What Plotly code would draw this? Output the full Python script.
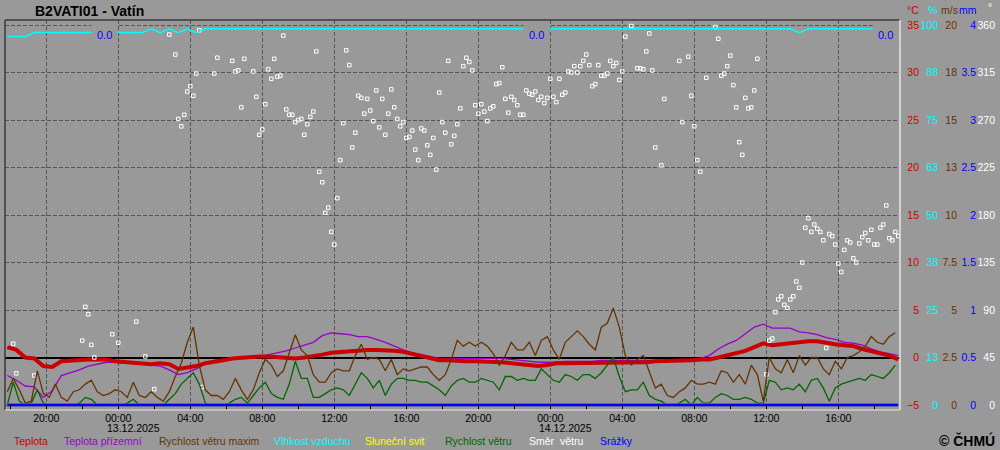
import pandas as pd
import plotly.graph_objects as go

# ---------------- DATA ----------------
START = "2025-12-12 17:50"

# 30-minute series (100 samples)
temp = [1.1, 0.8, 0.0, -0.1, -0.9, -1.0, -0.4, -0.3, -0.2, -0.2,
        -0.2, -0.2, -0.4, -0.5, -0.5, -0.6, -0.7, -0.6, -0.7, -1.2,
        -1.1, -0.9, -0.6, -0.5, -0.3, -0.1, 0.0, 0.1, 0.1, 0.1,
        0.0, -0.1, -0.1, 0.0, 0.1, 0.3, 0.5, 0.6, 0.7, 0.7,
        0.8, 0.8, 0.8, 0.7, 0.6, 0.4, 0.1, -0.1, -0.3, -0.3,
        -0.4, -0.4, -0.4, -0.4, -0.5, -0.5, -0.6, -0.7, -0.8, -0.9,
        -0.8, -0.6, -0.6, -0.6, -0.6, -0.5, -0.5, -0.5, -0.5, -0.5,
        -0.5, -0.5, -0.4, -0.4, -0.4, -0.3, -0.3, -0.2, -0.2, 0.0,
        0.2, 0.4, 0.7, 1.1, 1.5, 1.3, 1.4, 1.6, 1.7, 1.7,
        1.7, 1.5, 1.4, 1.3, 1.2, 0.9, 0.7, 0.5, 0.2, -0.2]

temp_ground = [-1.9, -2.4, -3.0, -3.1, -4.2, -3.5, -1.9, -1.6, -1.3, -0.9,
               -0.7, -0.5, -0.5, -0.6, -0.6, -0.7, -0.8, -0.9, -1.3, -1.8,
               -1.6, -1.2, -0.7, -0.3, -0.2, -0.1, 0.0, 0.1, 0.1, 0.3,
               0.5, 0.7, 1.0, 1.3, 1.6, 2.3, 2.6, 2.5, 2.4, 2.2,
               2.2, 1.9, 1.6, 1.2, 0.8, 0.5, 0.3, 0.1, -0.1, -0.1,
               -0.1, -0.1, -0.1, -0.1, -0.1, -0.1, -0.2, -0.3, -0.4, -0.5,
               -0.5, -0.5, -0.4, -0.4, -0.4, -0.4, -0.3, -0.3, -0.3, -0.3,
               -0.3, -0.3, -0.3, -0.3, -0.3, -0.2, -0.2, -0.1, 0.2, 0.9,
               1.4, 1.8, 2.5, 3.2, 3.5, 3.1, 3.1, 3.1, 2.7, 2.6,
               2.4, 2.1, 1.9, 1.6, 1.5, 1.3, 0.9, 0.6, 0.4, 0.2]

humidity = [97, 97, 97, 98, 98, 98, 98, 98, 98, 98,
            98, 98, 98, 98, 98, 98, 99, 98, 99, 98,
            99, 98, 99, 99, 99, 99, 99, 99, 99, 99,
            99, 99, 99, 99, 99, 99, 99, 99, 99, 99,
            99, 99, 99, 99, 99, 99, 99, 99, 99, 99,
            99, 99, 99, 99, 99, 99, 99, 99, 99, 99,
            99, 99, 99, 99, 99, 99, 99, 99, 99, 99,
            99, 99, 99, 99, 99, 99, 99, 99, 99, 99,
            99, 99, 99, 99, 99, 99, 99, 99, 98, 99,
            99, 99, 99, 99, 99, 99, 99, 99, 99, 99]

sunshine = [0, 0, 0, 0, 0, 0, 0, 0, 0, 0,
            0, 0, 0, 0, 0, 0, 0, 0, 0, 0,
            0, 0, 0, 0, 0, 0, 0, 0, 0, 0,
            0, 0, 0, 0, 0, 0, 0, 0, 0, 0,
            0, 0, 0, 0, 0, 0, 0, 0, 0, 0,
            0, 0, 0, 0, 0, 0, 0, 0, 0, 0,
            0, 0, 0, 0, 0, 0, 0, 0, 0, 0,
            0, 0, 0, 0, 0, 0, 0, 0, 0, 0,
            0, 0, 0, 0, 0, 0, 0, 0, 0, 0,
            0, 0, 0, 0, 0, 0, 0, 0, 0, 0]

precip = [0.0, 0.0, 0.0, 0.0, 0.0, 0.0, 0.0, 0.0, 0.0, 0.0,
          0.0, 0.0, 0.0, 0.0, 0.0, 0.0, 0.0, 0.0, 0.0, 0.0,
          0.0, 0.0, 0.0, 0.0, 0.0, 0.0, 0.0, 0.0, 0.0, 0.0,
          0.0, 0.0, 0.0, 0.0, 0.0, 0.0, 0.0, 0.0, 0.0, 0.0,
          0.0, 0.0, 0.0, 0.0, 0.0, 0.0, 0.0, 0.0, 0.0, 0.0,
          0.0, 0.0, 0.0, 0.0, 0.0, 0.0, 0.0, 0.0, 0.0, 0.0,
          0.0, 0.0, 0.0, 0.0, 0.0, 0.0, 0.0, 0.0, 0.0, 0.0,
          0.0, 0.0, 0.0, 0.0, 0.0, 0.0, 0.0, 0.0, 0.0, 0.0,
          0.0, 0.0, 0.0, 0.0, 0.0, 0.0, 0.0, 0.0, 0.0, 0.0,
          0.0, 0.0, 0.0, 0.0, 0.0, 0.0, 0.0, 0.0, 0.0, 0.0]

# 20-minute series (149 samples)
wind_max = [0.7, 1.4, 0.8, 0.1, 0.2, 1.8, 0.6, 0.4, 1.1, 0.4,
            0.2, 0.7, 0.8, 1.1, 1.3, 0.7, 0.5, 0.6, 0.8, 0.7,
            0.4, 1.2, 0.5, 0.4, 0.7, 0.4, 0.2, 0.7, 1.5, 2.2,
            3.3, 4.1, 2.1, 0.8, 0.5, 0.5, 0.3, 0.7, 1.4, 0.8,
            0.3, 0.8, 1.7, 2.4, 2.1, 1.5, 1.8, 2.8, 3.7, 2.9,
            2.6, 1.6, 1.2, 1.2, 1.7, 1.9, 1.8, 1.8, 2.6, 3.2,
            2.4, 2.5, 2.4, 1.8, 2.4, 1.6, 1.9, 1.8, 1.9, 2.0,
            2.0, 1.6, 1.3, 1.6, 2.4, 3.4, 3.1, 3.3, 3.1, 3.3,
            3.1, 2.7, 2.1, 2.6, 3.3, 2.9, 2.9, 3.3, 2.6, 3.4,
            3.6, 2.9, 2.4, 3.3, 3.6, 3.9, 3.6, 3.2, 2.9, 4.1,
            4.3, 5.1, 4.1, 2.6, 2.1, 2.4, 2.6, 1.7, 0.9, 1.1,
            0.5, 0.4, 0.7, 0.9, 1.3, 1.1, 1.1, 1.2, 1.1, 1.8,
            1.7, 1.2, 1.6, 1.1, 2.1, 1.6, 0.2, 2.5, 1.9, 1.7,
            2.4, 1.7, 2.6, 2.1, 2.5, 2.5, 1.9, 1.6, 2.3, 1.9,
            2.5, 2.6, 2.8, 3.1, 3.6, 3.3, 3.2, 3.6, 3.8]

wind_speed = [0.0, 1.2, 0.2, 0.0, 0.1, 0.8, 0.1, 0.0, 0.0, 0.0,
              0.0, 0.0, 0.1, 0.4, 0.3, 0.0, 0.0, 0.0, 0.0, 0.0,
              0.1, 0.3, 0.0, 0.0, 0.0, 0.0, 0.0, 0.3, 0.6, 1.1,
              1.4, 1.7, 1.1, 0.1, 0.0, 0.0, 0.0, 0.1, 0.3, 0.4,
              0.1, 0.5, 0.9, 1.2, 0.6, 0.4, 0.3, 1.1, 2.3, 1.4,
              1.4, 0.4, 0.4, 0.6, 0.8, 0.9, 0.8, 0.5, 1.1, 1.7,
              1.4, 0.9, 1.3, 0.5, 1.1, 1.4, 1.4, 1.3, 1.3, 1.2,
              1.2, 1.0, 0.8, 0.5, 1.0, 1.3, 1.4, 1.2, 1.2, 1.4,
              1.3, 1.2, 0.8, 1.5, 1.5, 1.3, 1.4, 1.3, 1.3, 1.9,
              1.6, 1.3, 1.2, 1.6, 1.5, 1.3, 1.6, 1.6, 1.4, 1.7,
              2.1, 2.5, 1.5, 0.7, 0.8, 0.8, 1.2, 0.5, 0.3, 0.2,
              0.0, 0.0, 0.1, 0.3, 0.0, 0.4, 0.1, 0.1, 0.4, 0.6,
              0.5, 0.3, 0.3, 0.4, 0.3, 0.1, 0.1, 1.3, 1.2, 0.8,
              0.9, 0.8, 1.1, 0.7, 1.3, 1.4, 0.9, 0.2, 0.9, 1.1,
              1.2, 1.3, 1.4, 1.3, 1.6, 1.5, 1.4, 1.7, 2.1]

# 10-minute wind direction (298 samples, None = no value)
N = None
wind_dir = [N, N, 58, 30, N, N, N, N, N, 28, N, N, N, N, N, N, N, N, N, N,
            N, N, N, N, N, 61, 93, 86, 57, 45, N, N, N, N, N, 67, N, 59, N, N,
            N, N, N, 79, N, N, 46, N, N, 15, N, N, N, N, 351, N, 332, 271, 264, 275,
            297, 302, 293, 314, 355, 17, N, N, N, 314, 329, N, N, N, N, 326, 316, 317, 282, 328,
            N, N, 316, 292, 256, 261, 285, 318, 309, 328, 311, 312, 350, 280, 275, 275, 268, 270, 271, 256,
            266, 273, 278, 335, 221, 211, 182, 187, 164, 152, 196, 232, 267, 336, 322, 244, 258, 293, 291, 276,
            290, 279, 269, 298, 263, 290, 256, 276, 299, 282, 271, 264, 268, 253, 254, 260, 242, 232, 262, 260,
            246, 237, 253, 223, 296, 268, 258, 326, 247, 255, 266, 281, 321, 329, 325, 317, 284, 276, 285, 278,
            269, 281, 283, 304, 305, 320, 290, 277, 292, 289, 284, 275, 275, 298, 295, 294, 297, 289, 292, 286,
            291, 309, 292, 287, 309, 294, 296, 316, 315, 321, 315, 321, 326, 332, 322, 302, 304, 322, 312, 312,
            314, 326, 321, 324, 308, 316, 349, N, 359, N, 319, 319, 318, 335, 352, 317, 244, N, 227, 290,
            N, N, N, N, 326, 268, N, 330, 293, 264, 232, 221, N, 310, N, N, 358, 347, 312, 314,
            321, 331, 303, 282, 249, 237, 291, 281, 282, 298, 328, N, N, 29, 61, 63, 88, 100, 103, 95,
            92, 100, 103, 117, 111, 135, 168, 177, 164, 171, 167, 164, 156, 54, 162, 160, 152, 134, 126, 147,
            156, 154, 139, 135, 153, 159, 163, 156, 166, 152, 152, 168, 171, 189, 158, 156, 164, 160]

# daily precipitation totals and the time they are printed at
precip_sum_labels = ["0.0", "0.0", "0.0"]
precip_sum_times = ["2025-12-13 00:00", "2025-12-14 00:00", "2025-12-14 19:21"]

# axis ticks
x_label_times = ["2025-12-12 20:00", "2025-12-13 00:00", "2025-12-13 04:00", "2025-12-13 08:00",
                 "2025-12-13 12:00", "2025-12-13 16:00", "2025-12-13 20:00", "2025-12-14 00:00",
                 "2025-12-14 04:00", "2025-12-14 08:00", "2025-12-14 12:00", "2025-12-14 16:00"]
x_label_text = ["20:00", "00:00", "04:00", "08:00", "12:00", "16:00",
                "20:00", "00:00", "04:00", "08:00", "12:00", "16:00"]
date_labels = ["13.12.2025", "14.12.2025"]
x_minor_times = ["2025-12-12 18:00", "2025-12-12 22:00", "2025-12-13 02:00", "2025-12-13 06:00",
                 "2025-12-13 10:00", "2025-12-13 14:00", "2025-12-13 18:00", "2025-12-13 22:00",
                 "2025-12-14 02:00", "2025-12-14 06:00", "2025-12-14 10:00", "2025-12-14 14:00",
                 "2025-12-14 18:00"]
x_bold_times = ["2025-12-13 00:00", "2025-12-13 12:00", "2025-12-14 00:00", "2025-12-14 12:00"]
x_midnights = ["2025-12-13 00:00", "2025-12-14 00:00"]
X_RANGE = ["2025-12-12 17:42:20", "2025-12-14 19:25:40"]

t_vals = [-5, 0, 5, 10, 15, 20, 25, 30, 35]
h_vals = [0, 12.5, 25, 37.5, 50, 62.5, 75, 87.5, 100]
h_text = ["0", "13", "25", "38", "50", "63", "75", "88", "100"]
w_vals = [0, 2.5, 5, 7.5, 10, 12.5, 15, 17.5, 20]
w_text = ["0", "2.5", "5", "7.5", "10", "13", "15", "18", "20"]
p_vals = [0, 0.5, 1, 1.5, 2, 2.5, 3, 3.5, 4]
p_text = ["0", "0.5", "1", "1.5", "2", "2.5", "3", "3.5", "4"]
d_vals = [0, 45, 90, 135, 180, 225, 270, 315, 360]

legend_items = ["Teplota", "Teplota přízemní", "Rychlost větru maxim", "Vlhkost vzduchu",
                "Sluneční svit", "Rychlost větru", "Směr\u00a0 větru", "Srážky"]

# ---------------- STYLE ----------------
BG = "#999999"
RED = "#cc0000"
PURPLE = "#9900cc"
BROWN = "#663300"
CYAN = "#00ffff"
YELLOW = "#ffff00"
GREEN = "#006600"
WHITE = "#ffffff"
BLUE = "#0000ff"
GRID = "#555555"
FONT = "Liberation Sans, Arial, sans-serif"
legend_colors = [RED, PURPLE, BROWN, CYAN, YELLOW, GREEN, WHITE, BLUE]
legend_x_px = [12, 62, 157, 272, 363, 443, 527, 598]

W, H = 1000, 450
ML, MR, MT, MB = 5, 2, 20, 40
PW = W - ML - MR
PH = H - MT - MB


def px_x(px):
    return (px - ML) / PW


def px_y(py):
    return (H - MB - py) / PH


# scale: plot area 390 px tall, -5..35 degC occupies 380 px
T_LO, T_HI = -5 - 5 / 9.5, 35 + 5 / 9.5


def lin(lo_val, hi_val):
    a = (hi_val - lo_val) / 40.0
    return [lo_val + (T_LO + 5) * a, lo_val + (T_HI + 5) * a]


t30 = pd.date_range(START, periods=len(temp), freq="30min")
t20 = pd.date_range(START, periods=len(wind_max), freq="20min")
t10 = pd.date_range(START, periods=len(wind_dir), freq="10min")

fig = go.Figure()
fig.add_trace(go.Scatter(x=t10, y=wind_dir, yaxis="y2", mode="markers",
                         marker=dict(symbol="square-open", size=3.5, color=WHITE,
                                     line=dict(width=1, color=WHITE))))
fig.add_trace(go.Scatter(x=t30, y=humidity, yaxis="y4", mode="lines",
                         line=dict(color=CYAN, width=1.5)))
fig.add_trace(go.Scatter(x=t20, y=wind_speed, yaxis="y3", mode="lines",
                         line=dict(color=GREEN, width=1.3)))
fig.add_trace(go.Scatter(x=t20, y=wind_max, yaxis="y3", mode="lines",
                         line=dict(color=BROWN, width=1.3)))
fig.add_trace(go.Scatter(x=t30, y=temp_ground, yaxis="y", mode="lines",
                         line=dict(color=PURPLE, width=1.3)))
fig.add_trace(go.Scatter(x=t30, y=temp, yaxis="y", mode="lines",
                         line=dict(color=RED, width=4)))
fig.add_trace(go.Scatter(x=t30, y=sunshine, yaxis="y5", mode="lines",
                         line=dict(color=YELLOW, width=3)))
fig.add_trace(go.Scatter(x=t30, y=precip, yaxis="y5", mode="lines",
                         line=dict(color=BLUE, width=3)))

dom = [0, (900 - ML) / PW]
common_x = dict(type="date", range=X_RANGE, domain=dom)
common_y = dict(ticks="", showgrid=False, zeroline=False, showline=False, automargin=False,
                tickmode="array")
fig.update_layout(
    width=W, height=H,
    margin=dict(l=ML, r=MR, t=MT, b=MB, pad=0),
    paper_bgcolor=BG, plot_bgcolor=BG,
    showlegend=False,
    font=dict(family=FONT, size=10.5, color="black"),
    xaxis=dict(**common_x, anchor="y",
               tickmode="array", tickvals=x_label_times, ticktext=x_label_text,
               ticks="inside", ticklen=6, tickwidth=1, tickcolor="black",
               tickfont=dict(size=10.5, color="black"),
               showgrid=True, gridcolor=GRID, griddash="4px,2px", gridwidth=1,
               minor=dict(tickmode="array", tickvals=x_minor_times, ticks="inside",
                          ticklen=6, tickwidth=1, tickcolor="black", showgrid=False),
               showline=False, zeroline=False, automargin=False),
    xaxis2=dict(**common_x, overlaying="x", anchor="y", side="bottom",
                tickmode="array", tickvals=x_bold_times, ticks="inside", ticklen=8,
                tickwidth=3, tickcolor="black", showticklabels=False,
                showgrid=False, showline=False, zeroline=False, automargin=False),
    xaxis3=dict(**common_x, overlaying="x", anchor="y", side="top",
                tickmode="array", tickvals=x_midnights, ticks="inside", ticklen=6,
                tickwidth=2, tickcolor="black", showticklabels=False,
                showgrid=False, showline=False, zeroline=False, automargin=False),
    yaxis=dict(range=[T_LO, T_HI], tickmode="array", tickvals=t_vals,
               anchor="free", side="left", position=px_x(919),
               tickfont=dict(color=RED), ticks="", showgrid=True, gridcolor=GRID,
               griddash="4px,2px", gridwidth=1, zeroline=True, zerolinecolor="black",
               zerolinewidth=1.5, showline=False, automargin=False),
    yaxis2=dict(**common_y, range=lin(0, 360), overlaying="y", anchor="free", side="left",
                position=px_x(995), tickvals=d_vals, tickfont=dict(color=WHITE)),
    yaxis3=dict(**common_y, range=lin(0, 20), overlaying="y", anchor="free", side="left",
                position=px_x(957), tickvals=w_vals, ticktext=w_text,
                tickfont=dict(color=BROWN)),
    yaxis4=dict(**common_y, range=lin(0, 100), overlaying="y", anchor="free", side="left",
                position=px_x(938), tickvals=h_vals, ticktext=h_text,
                tickfont=dict(color=CYAN)),
    yaxis5=dict(**common_y, range=lin(0, 4), overlaying="y", anchor="free", side="left",
                position=px_x(976), tickvals=p_vals, ticktext=p_text,
                tickfont=dict(color=BLUE)),
)

# frame (sunken look)
fig.add_shape(type="line", xref="x domain", yref="y domain", x0=0, x1=1, y0=1, y1=1,
              line=dict(color="#3a3a3a", width=1.5))
fig.add_shape(type="line", xref="x domain", yref="y domain", x0=0, x1=0, y0=0, y1=1,
              line=dict(color="#3a3a3a", width=1.5))
fig.add_shape(type="line", xref="x domain", yref="y domain", x0=1, x1=1, y0=0, y1=1,
              line=dict(color="#e6e6e6", width=1.5))
fig.add_shape(type="line", xref="x domain", yref="y domain", x0=0, x1=1, y0=0, y1=0,
              line=dict(color="#cfcfcf", width=1.5))

ann = []
ann.append(dict(text="<b>B2VATI01 - Vatín</b>", xref="paper", yref="paper",
                x=px_x(33), y=px_y(11), xanchor="left", yanchor="middle",
                showarrow=False, font=dict(size=14, color="black")))
for lbl, tm in zip(precip_sum_labels, precip_sum_times):
    ann.append(dict(text=lbl, x=tm, y=34.0, xref="x", yref="y", xanchor="right",
                    yanchor="middle", showarrow=False, bgcolor=BG, borderpad=5,
                    font=dict(size=11, color=BLUE)))
# dates under the midnight tick labels (left-aligned with "00:00")
for lbl, tm in zip(date_labels, x_midnights):
    ann.append(dict(text=lbl, x=tm, xref="x", yref="paper", y=px_y(428),
                    xanchor="left", yanchor="middle", xshift=-13, showarrow=False,
                    font=dict(size=10.5, color="black")))
for txt, col, cx, cy in [("°C", RED, 913, 10), ("%", CYAN, 932, 10), ("m/s", BROWN, 949, 10),
                         ("mm", BLUE, 968, 10), ("°", WHITE, 990, 7)]:
    ann.append(dict(text=txt, xref="paper", yref="paper", x=px_x(cx), y=px_y(cy),
                    xanchor="center", yanchor="middle", showarrow=False,
                    font=dict(size=10.5, color=col)))
for txt, col, lx in zip(legend_items, legend_colors, legend_x_px):
    ann.append(dict(text=txt, xref="paper", yref="paper", x=px_x(lx), y=px_y(441),
                    xanchor="left", yanchor="middle", showarrow=False,
                    font=dict(size=10.5, color=col)))
ann.append(dict(text="<b>© ČHMÚ</b>", xref="paper", yref="paper", x=px_x(997), y=px_y(440),
                xanchor="right", yanchor="middle", showarrow=False,
                font=dict(size=14, color="black")))
fig.update_layout(annotations=ann)

fig.write_html("out.html", config={"displayModeBar": False},
               post_script="document.body.style.margin='0';")
